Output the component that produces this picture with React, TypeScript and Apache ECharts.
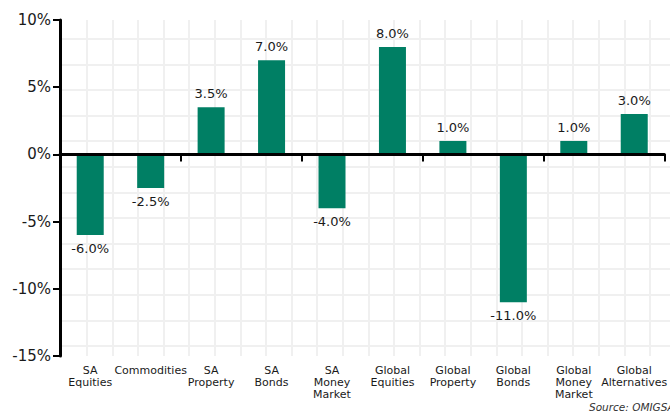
import React, { useEffect, useRef } from "react";
import * as echarts from "echarts";

const categories = [
  "SA\nEquities",
  "Commodities",
  "SA\nProperty",
  "SA\nBonds",
  "SA\nMoney\nMarket",
  "Global\nEquities",
  "Global\nProperty",
  "Global\nBonds",
  "Global\nMoney\nMarket",
  "Global\nAlternatives",
];
const returns = [-6.0, -2.5, 3.5, 7.0, -4.0, 8.0, 1.0, -11.0, 1.0, 3.0];
const yMin = -15;
const yMax = 10;
const yStep = 5;
const sourceText = "Source: OMIGSA";

const W = 670;
const H = 412;
const GRID_LEFT = 60;
const GRID_TOP = 20;
const GRID_BOTTOM = 56;
const FONT = "Verdana, 'DejaVu Sans', sans-serif";

function backgroundGrid() {
  const els: any[] = [];
  const step = 25.6;
  const bottomY = H - GRID_BOTTOM;
  for (let x = GRID_LEFT + 1.4 + step; x < W; x += step) {
    els.push({
      type: "line",
      z: -10,
      silent: true,
      shape: { x1: Math.round(x), y1: GRID_TOP, x2: Math.round(x), y2: bottomY },
      style: { stroke: "#f0f0f0", lineWidth: 2 },
    });
  }
  for (let y = GRID_TOP + 19; y < bottomY; y += step) {
    els.push({
      type: "line",
      z: -10,
      silent: true,
      shape: { x1: GRID_LEFT, y1: Math.round(y), x2: W, y2: Math.round(y) },
      style: { stroke: "#f0f0f0", lineWidth: 2 },
    });
  }
  return els;
}

export default function App() {
  const ref = useRef<HTMLDivElement>(null);
  useEffect(() => {
    if (!ref.current) return;
    const chart = echarts.init(ref.current, null, { renderer: "svg" });
    chart.setOption({
      animation: false,
      backgroundColor: "#ffffff",
      grid: { left: GRID_LEFT, right: 0, top: GRID_TOP, bottom: GRID_BOTTOM, containLabel: false },
      graphic: [
        ...backgroundGrid(),
        {
          type: "text",
          left: 589,
          top: 401,
          style: {
            text: sourceText,
            font: `italic 10.5px ${FONT}`,
            fill: "#333333",
          },
        },
      ],
      xAxis: [
        {
          type: "category",
          data: categories,
          axisLine: { onZero: true, lineStyle: { color: "#000", width: 3 } },
          axisTick: { show: true, length: 7, lineStyle: { color: "#000", width: 2 } },
          axisLabel: { show: false },
          splitLine: { show: false },
          z: 5,
        },
        {
          type: "category",
          position: "bottom",
          data: categories,
          axisLine: { show: false },
          axisTick: { show: false },
          axisLabel: {
            show: true,
            interval: 0,
            margin: 8,
            color: "#1a1a1a",
            fontSize: 11,
            lineHeight: 12,
            fontFamily: FONT,
          },
          splitLine: { show: false },
        },
      ],
      yAxis: {
        type: "value",
        min: yMin,
        max: yMax,
        interval: yStep,
        axisLine: { show: true, lineStyle: { color: "#000", width: 3 } },
        axisTick: { show: true, length: 7, lineStyle: { color: "#000", width: 2 } },
        axisLabel: {
          formatter: (v: number) => `${v}%`,
          color: "#1a1a1a",
          fontSize: 15,
          fontFamily: FONT,
          margin: 9,
        },
        splitLine: { show: false },
        z: 5,
      },
      series: [
        {
          type: "bar",
          data: returns,
          xAxisIndex: 0,
          barWidth: 27,
          itemStyle: { color: "#007f64" },
          label: {
            show: true,
            position: "outside",
            distance: 7,
            formatter: (p: any) => `${Number(p.value).toFixed(1)}%`,
            color: "#1a1a1a",
            fontSize: 13,
            fontFamily: FONT,
          },
          z: 3,
        },
      ],
    });
    return () => chart.dispose();
  }, []);
  return (
    <div
      ref={ref}
      style={{ position: "fixed", left: 0, top: 0, width: W, height: H }}
    />
  );
}
